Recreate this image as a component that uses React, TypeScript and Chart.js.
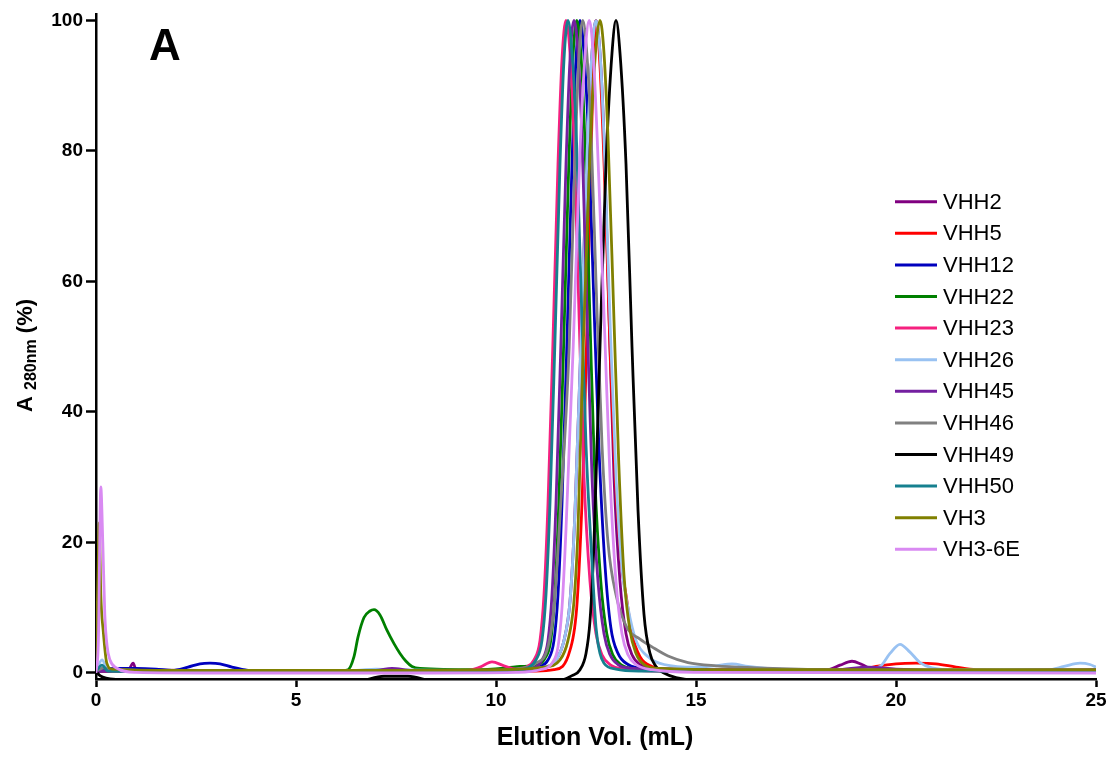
import React, { useEffect, useRef } from 'react';
import { Chart, registerables } from 'chart.js';

Chart.register(...registerables);

const FONT = '"Liberation Sans", Arial, Helvetica, sans-serif';

const seriesNames = ['VHH2', 'VHH5', 'VHH12', 'VHH22', 'VHH23', 'VHH26', 'VHH45', 'VHH46', 'VHH49', 'VHH50', 'VH3', 'VH3-6E'];
const seriesColors = ['#800080', '#FF0000', '#0000BE', '#008000', '#F5207F', '#99C2F2', '#7420A0', '#808080', '#000000', '#16808F', '#808000', '#D98AF2'];

const xTicks = [0, 5, 10, 15, 20, 25];
const yTicks = [0, 20, 40, 60, 80, 100];

const vhh2: number[][] = [[0,0.3],[0.8,0.4],[0.93,1.5],[1.0,0.5],[3,0.4],[7,0.4],[10,0.4],[11.1,0.8],[11.5,2],[11.7,5],[11.85,11],[11.97,24],[12.12,50],[12.28,80],[12.4,95],[12.5,100],[12.6,95],[12.7,82],[12.83,54],[12.95,30],[13.1,14],[13.25,6],[13.4,2.8],[13.6,1.3],[14,0.7],[16,0.5],[18.3,0.5],[18.6,1.2],[18.9,1.8],[19.15,1.3],[19.4,0.6],[21,0.4],[25,0.4]];
const vhh5: number[][] = [[0,0.2],[3,0.2],[8,0.2],[11.0,0.3],[11.45,0.5],[11.85,3.5],[12.03,11],[12.2,35],[12.32,65],[12.42,90],[12.5,100],[12.6,93],[12.72,75],[12.85,50],[13.0,28],[13.15,16],[13.25,12],[13.4,6],[13.6,2.5],[13.9,1],[14.5,0.4],[17,0.3],[19,0.4],[19.5,1.0],[20,1.4],[20.5,1.5],[21,1.4],[21.5,0.9],[22,0.5],[25,0.3]];
const vhh12: number[][] = [[0,0.2],[0.2,0.6],[0.5,0.7],[1.0,0.7],[1.5,0.6],[1.9,0.4],[2.3,0.9],[2.6,1.4],[2.85,1.5],[3.1,1.4],[3.4,0.9],[3.8,0.4],[4.5,0.2],[8,0.2],[10.5,0.3],[11.1,1],[11.3,2],[11.45,5],[11.55,12],[11.65,26],[11.77,50],[11.9,78],[12.0,94],[12.1,100],[12.2,95],[12.3,84],[12.43,60],[12.57,35],[12.72,17],[12.87,7],[13.05,3],[13.3,1.3],[13.8,0.6],[15,0.3],[25,0.2]];
const vhh22: number[][] = [[0,0.3],[3,0.3],[6,0.3],[6.3,0.5],[6.45,2.5],[6.55,5.5],[6.7,8.5],[6.85,9.5],[6.95,9.7],[7.1,8.9],[7.27,6.6],[7.45,4.5],[7.6,3.0],[7.75,1.8],[7.9,1.0],[8.1,0.7],[9.5,0.5],[10.3,0.8],[10.6,1.0],[11.02,1.2],[11.22,2.2],[11.37,5],[11.47,12],[11.57,26],[11.69,50],[11.82,78],[11.92,94],[12.02,100],[12.12,95],[12.22,82],[12.35,54],[12.47,30],[12.62,14],[12.77,6],[12.92,2.8],[13.12,1.3],[13.52,0.6],[14.5,0.3],[25,0.3]];
const vhh23: number[][] = [[0,0.3],[2,0.3],[5,0.2],[8,0.3],[9.3,0.4],[9.6,0.9],[9.9,1.7],[10.2,1.1],[10.5,0.6],[10.75,0.9],[10.95,2],[11.1,5],[11.2,12],[11.3,26],[11.42,50],[11.55,78],[11.65,94],[11.75,100],[11.85,95],[11.95,82],[12.08,54],[12.2,30],[12.35,14],[12.5,6],[12.65,2.8],[12.85,1.3],[13.25,0.6],[14,0.3],[17,0.2],[20,0.2],[25,0.2]];
const vhh26: number[][] = [[0,0.2],[0.15,2],[0.3,0.5],[3,0.3],[6.5,0.4],[7,0.6],[7.5,0.5],[10,0.4],[11.1,0.8],[11.5,2],[11.7,5],[11.85,11],[11.97,24],[12.12,50],[12.28,80],[12.4,95],[12.5,100],[12.6,95],[12.7,82],[12.85,54],[13.0,30],[13.15,16],[13.3,10],[13.5,5],[13.8,2.5],[14.2,1.3],[15,0.9],[15.5,1.1],[15.9,1.4],[16.3,1.0],[17,0.6],[19,0.5],[19.6,1.0],[19.85,3],[20.1,4.4],[20.35,3.2],[20.6,1.6],[20.9,0.8],[21.5,0.5],[23.8,0.5],[24.2,1.0],[24.6,1.5],[24.85,1.3],[25,0.9]];
const vhh45: number[][] = [[0,0.2],[0.5,0.3],[3,0.3],[6,0.3],[7,0.4],[7.4,0.7],[7.9,0.4],[10,0.4],[10.95,0.8],[11.15,2],[11.3,5],[11.4,12],[11.5,26],[11.62,50],[11.75,78],[11.85,94],[11.95,100],[12.05,95],[12.15,82],[12.28,54],[12.4,30],[12.55,14],[12.7,6],[12.85,2.8],[13.05,1.3],[13.45,0.7],[14,0.5],[16,0.4],[18.5,0.5],[19.3,0.9],[20,0.6],[22,0.4],[25,0.5]];
const vhh46: number[][] = [[0,0.3],[0.2,0.8],[0.4,0.3],[5,0.3],[10,0.4],[10.6,0.7],[11.0,1.5],[11.3,4],[11.45,10],[11.6,24],[11.83,50],[11.97,78],[12.07,94],[12.17,100],[12.27,95],[12.37,84],[12.5,60],[12.65,35],[12.8,20],[13.0,12],[13.27,7],[13.6,5.2],[13.9,4],[14.3,2.6],[14.8,1.6],[15.5,1.1],[16.5,0.8],[18,0.5],[20,0.3],[25,0.2]];
const vhh49: number[][] = [[0,0.2],[0.1,-0.4],[0.25,-0.8],[0.6,-1.0],[1.5,-1.3],[6.5,-1.3],[7.2,-0.5],[7.8,-0.5],[8.5,-1.3],[11.5,-1.3],[11.9,-0.4],[12.1,0.5],[12.25,3],[12.35,8],[12.45,20],[12.6,50],[12.75,78],[12.9,95],[13.0,100],[13.1,95],[13.25,78],[13.4,50],[13.55,25],[13.7,9],[13.85,3],[14.0,1],[14.2,0],[14.5,-0.7],[15.5,-1.3],[25,-1.3]];
const vhh50: number[][] = [[0,0.3],[0.15,1.2],[0.3,0.3],[3,0.2],[8,0.2],[10.3,0.3],[10.8,0.8],[11.0,2],[11.15,5],[11.25,12],[11.35,26],[11.47,50],[11.6,78],[11.7,94],[11.8,100],[11.9,95],[12.0,84],[12.12,60],[12.25,35],[12.4,17],[12.5,7],[12.6,3],[12.7,1.5],[13.0,0.6],[13.6,0.3],[25,0.1]];
const vh3: number[][] = [[0,0.5],[0.05,15],[0.08,23],[0.12,12],[0.18,6.5],[0.27,1.5],[0.4,0.6],[2,0.4],[8,0.4],[10,0.5],[11.2,0.9],[11.6,2],[11.8,5],[11.95,11],[12.05,22],[12.18,50],[12.35,80],[12.5,96],[12.6,100],[12.7,95],[12.8,82],[12.95,54],[13.07,32],[13.2,15],[13.35,6.5],[13.5,3],[13.7,1.3],[14.1,0.7],[16,0.5],[25,0.5]];
const vh36e: number[][] = [[0,0],[0.06,5],[0.12,28.5],[0.17,20],[0.22,9],[0.28,4],[0.35,2],[0.5,0.8],[1,0.1],[3,0],[8,0],[10.5,0.1],[11.1,0.5],[11.4,1.5],[11.55,4],[11.65,10],[11.75,22],[11.93,50],[12.1,80],[12.23,95],[12.33,100],[12.43,95],[12.53,82],[12.73,50],[12.85,30],[13.0,14],[13.15,6],[13.3,2.8],[13.5,1.3],[13.9,0.5],[15,0.1],[25,0]];

const seriesData = [vhh2, vhh5, vhh12, vhh22, vhh23, vhh26, vhh45, vhh46, vhh49, vhh50, vh3, vh36e];

const overlayPlugin = {
  id: 'overlay',
  afterDraw(chart: any) {
    const ctx = chart.ctx as CanvasRenderingContext2D;
    ctx.save();
    ctx.fillStyle = '#000';
    ctx.font = `bold 44px ${FONT}`;
    ctx.textAlign = 'left';
    ctx.textBaseline = 'alphabetic';
    ctx.fillText('A', 149, 60);

    ctx.font = `bold 25px ${FONT}`;
    ctx.textAlign = 'center';
    ctx.fillText('Elution Vol. (mL)', 595, 745);

    ctx.save();
    ctx.translate(32, 412);
    ctx.rotate(-Math.PI / 2);
    ctx.textAlign = 'left';
    let x = 0;
    ctx.font = `bold 22px ${FONT}`;
    ctx.fillText('A ', x, 0);
    x += ctx.measureText('A ').width;
    ctx.font = `bold 16px ${FONT}`;
    ctx.fillText('280nm', x, 4);
    x += ctx.measureText('280nm').width;
    ctx.font = `bold 22px ${FONT}`;
    ctx.fillText(' (%)', x, 0);
    ctx.restore();

    ctx.font = `22px ${FONT}`;
    ctx.textAlign = 'left';
    ctx.textBaseline = 'middle';
    seriesNames.forEach((name, i) => {
      const y = 201.7 + i * 31.6;
      ctx.strokeStyle = seriesColors[i];
      ctx.lineWidth = 3;
      ctx.beginPath();
      ctx.moveTo(895, y);
      ctx.lineTo(937, y);
      ctx.stroke();
      ctx.fillStyle = '#000';
      ctx.fillText(name, 943, y + 1);
    });
    ctx.restore();
  },
};

export default function App() {
  const ref = useRef<HTMLCanvasElement>(null);
  useEffect(() => {
    if (!ref.current) return;
    const datasets = seriesData.map((pts, i) => ({
      label: seriesNames[i],
      data: pts.map(([x, y]) => ({ x, y })),
      borderColor: seriesColors[i],
      backgroundColor: seriesColors[i],
      borderWidth: 2.8,
      pointRadius: 0,
      fill: false,
      cubicInterpolationMode: 'monotone' as const,
      order: -i,
    }));
    const chart = new Chart(ref.current, {
      type: 'line',
      data: { datasets },
      plugins: [overlayPlugin],
      options: {
        animation: false,
        responsive: false,
        devicePixelRatio: 1,
        layout: { padding: { top: 12, right: 18, left: 0, bottom: 0 } },
        plugins: { legend: { display: false }, tooltip: { enabled: false } },
        scales: {
          x: {
            type: 'linear',
            min: 0,
            max: 25,
            afterBuildTicks: (axis: any) => { axis.ticks = xTicks.map((v) => ({ value: v })); },
            afterFit: (axis: any) => { axis.height = 80; },
            ticks: { color: '#000', font: { family: FONT, size: 19, weight: 'bold' }, padding: 2, maxRotation: 0 },
            grid: { drawOnChartArea: false, drawTicks: true, tickLength: 8, tickWidth: 2.5, tickColor: '#000' },
            border: { display: true, color: '#000', width: 2.5, z: 1 },
          },
          y: {
            type: 'linear',
            min: -0.92,
            max: 100.92,
            afterBuildTicks: (axis: any) => { axis.ticks = yTicks.map((v) => ({ value: v })); },
            afterFit: (axis: any) => { axis.width = 96; },
            ticks: { color: '#000', font: { family: FONT, size: 19, weight: 'bold' }, padding: 3 },
            grid: { drawOnChartArea: false, drawTicks: true, tickLength: 10, tickWidth: 2.5, tickColor: '#000' },
            border: { display: true, color: '#000', width: 2.5 },
          },
        },
      },
    });
    return () => chart.destroy();
  }, []);
  return (
    <div style={{ position: 'absolute', left: 0, top: 0, width: 1114, height: 759, background: '#fff' }}>
      <canvas ref={ref} width={1114} height={759} style={{ display: 'block', width: 1114, height: 759 }} />
    </div>
  );
}
